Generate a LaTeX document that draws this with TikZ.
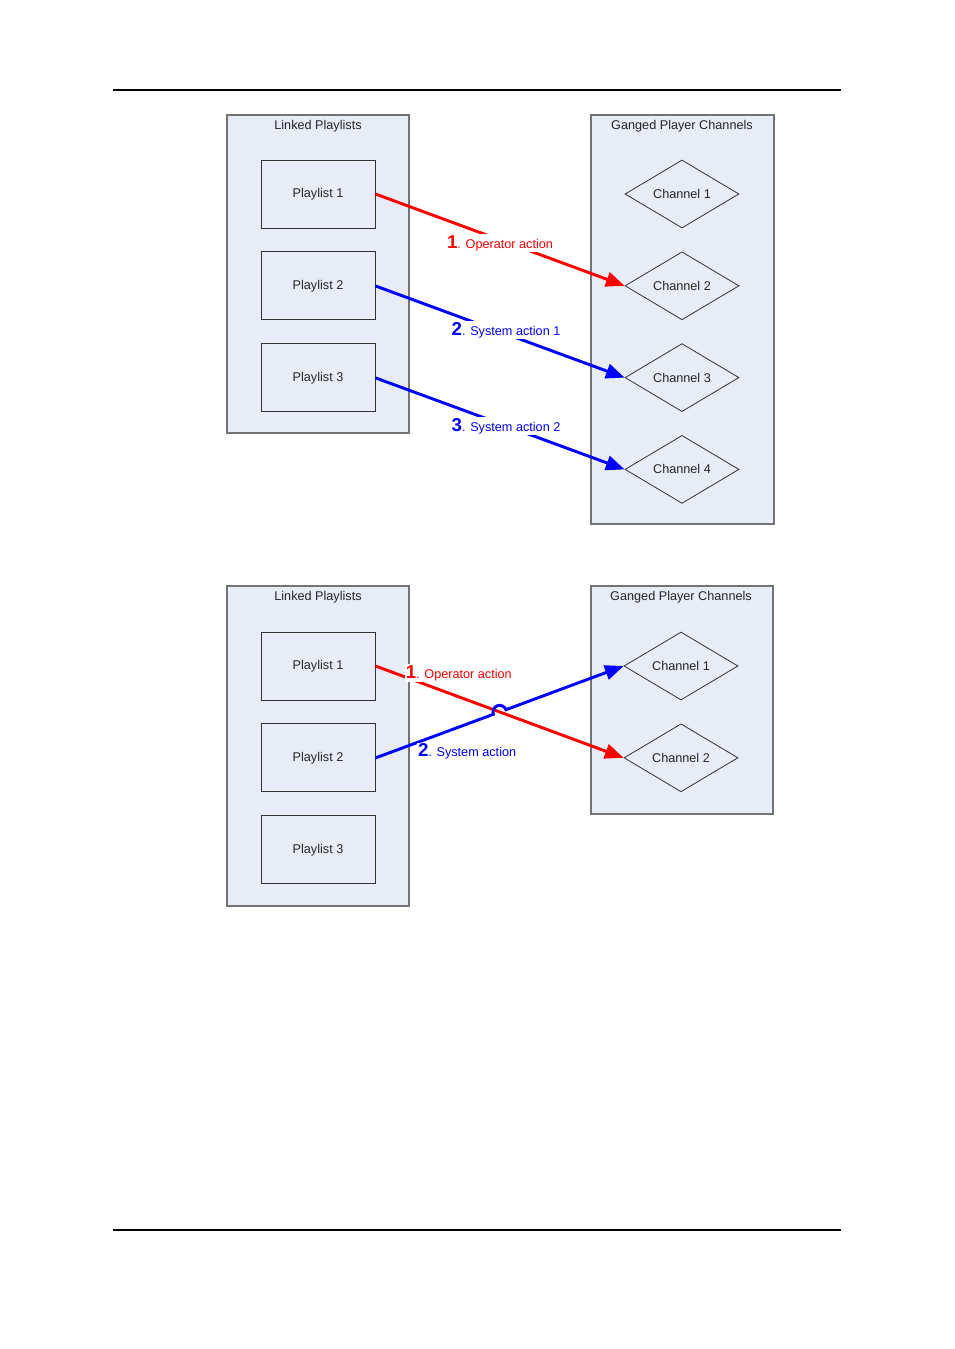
\documentclass[tikz,border=0pt]{standalone}
\usepackage{fontspec}
\setmainfont{Liberation Sans}
\usetikzlibrary{positioning}
\usetikzlibrary{calc}
\usetikzlibrary{arrows.meta}
\usetikzlibrary{shapes.geometric}
\definecolor{grpfill}{RGB}{231,236,247}
\definecolor{grpline}{RGB}{115,115,115}
\definecolor{opred}{RGB}{255,0,0}
\definecolor{sysblue}{RGB}{0,0,255}
\newcommand{\actnum}[1]{{\fontsize{14}{14}\selectfont\bfseries #1}}

\begin{document}
\begin{tikzpicture}[x=0.75pt, y=-0.75pt, node distance=17.25pt,
    every node/.style={font=\fontsize{9.5}{11}\selectfont, text=black!85},
    group/.style={draw=grpline, line width=1pt, fill=grpfill, minimum width=136.5pt},
    playlist/.style={draw=black!80, line width=0.7pt, minimum width=85.5pt, minimum height=51pt},
    channel/.style={diamond, draw=black!80, line width=0.6pt, aspect=1.7, inner sep=1pt, minimum width=85.5pt, minimum height=51pt},
    oparrow/.style={draw=opred, line width=2.2pt, -{Triangle[length=14pt,width=11pt]}},
    sysarrow/.style={draw=sysblue, line width=2.2pt, -{Triangle[length=14pt,width=11pt]}},
    actlabel/.style={fill=white, inner sep=1pt}]
    \useasboundingbox (0,0) rectangle (954,1349);

    % page rules
    \draw[line width=0.8pt] (113,90) -- (841,90);
    \draw[line width=0.8pt] (113,1230) -- (841,1230);

    % first picture
    \node[group, minimum height=238.5pt] (lp1) at (318,274) {};
    \node (lp1t) at (318,126) {Linked Playlists};
    \node[group, minimum width=137.25pt, minimum height=306.75pt] (gc1) at (682.5,319.5) {};
    \node (gc1t) at (682,126) {Ganged Player Channels};

    \node[playlist] (pl1) at (318,194) {Playlist 1};
    \node[playlist, below=of pl1] (pl2) {Playlist 2};
    \node[playlist, below=of pl2] (pl3) {Playlist 3};

    \node[channel] (ch1) at (682,194) {Channel 1};
    \node[channel, below=of ch1] (ch2) {Channel 2};
    \node[channel, below=of ch2] (ch3) {Channel 3};
    \node[channel, below=of ch3] (ch4) {Channel 4};

    \draw[oparrow] (pl1.east) -- node[actlabel, text=opred, yshift=-2.6pt] (op1) {\actnum{1}. Operator action} (ch2.west);
    \draw[sysarrow] (pl2.east) -- node[actlabel, text=sysblue, xshift=4.5pt, yshift=1.1pt] (sys1) {\actnum{2}. System action 1} (ch3.west);
    \draw[sysarrow] (pl3.east) -- node[actlabel, text=sysblue, xshift=4.5pt, yshift=-2pt] (sys2) {\actnum{3}. System action 2} (ch4.west);

    % second picture
    \node[group, minimum height=240pt] (lp2) at (318,746) {};
    \node (lp2t) at (318,597) {Linked Playlists};
    \node[group, minimum height=171pt] (gc2) at (682,700) {};
    \node (gc2t) at (681,597) {Ganged Player Channels};

    \node[playlist] (pl1b) at (318,666) {Playlist 1};
    \node[playlist, below=of pl1b] (pl2b) {Playlist 2};
    \node[playlist, below=of pl2b] (pl3b) {Playlist 3};

    \node[channel] (ch1b) at (681,666) {Channel 1};
    \node[channel, below=of ch1b] (ch2b) {Channel 2};

    \coordinate (xing) at (intersection of pl1b.east--ch2b.west and pl2b.east--ch1b.west);
    \draw[oparrow] (pl1b.east) -- (ch2b.west);
    \draw[sysarrow] (pl2b.east) -- ($(xing)!5pt!(pl2b.east)$)
        arc[start angle=200, end angle=20, radius=5pt] -- (ch1b.west);
    \node[actlabel, anchor=west, text=opred, yshift=2.7pt] (opb) at ($(pl1b.east)!0.116!(ch2b.west)$) {\actnum{1}. Operator action};
    \node[actlabel, anchor=west, text=sysblue, yshift=-6.75pt] (sysb) at ($(pl2b.east)!0.165!(ch1b.west)$) {\actnum{2}. System action};
\end{tikzpicture}
\end{document}
